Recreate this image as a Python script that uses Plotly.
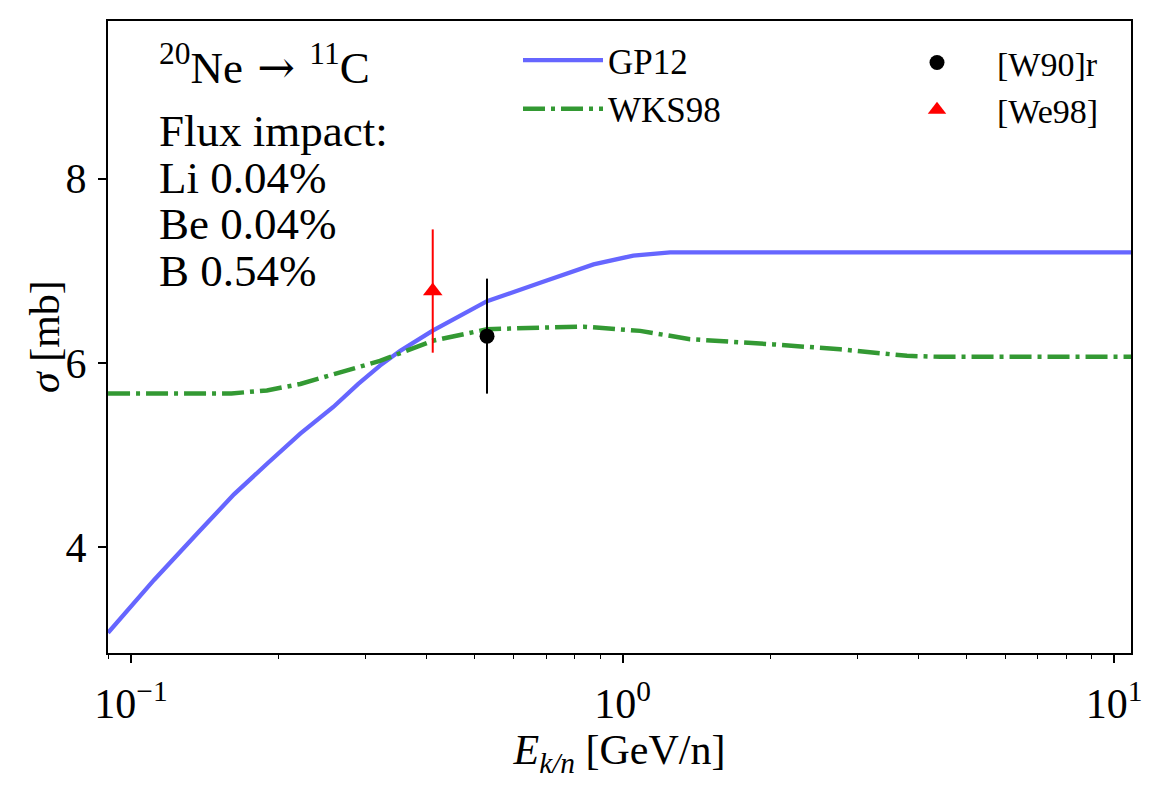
import plotly.graph_objects as go

# ---- data ----
gp12_x = [0.0898, 0.1114, 0.1383, 0.162, 0.1889, 0.221, 0.258, 0.290, 0.321, 0.353, 0.411, 0.530, 0.680, 0.873, 1.052, 1.25, 11.0]
gp12_y = [3.065, 3.64, 4.18, 4.57, 4.90, 5.23, 5.52, 5.77, 5.97, 6.13, 6.35, 6.67, 6.87, 7.07, 7.166, 7.20, 7.20]

wks_x = [0.0898, 0.16, 0.189, 0.221, 0.260, 0.302, 0.321, 0.411, 0.530, 0.680, 0.833, 1.086, 1.372, 2.03, 2.77, 3.79, 4.43, 11.0]
wks_y = [5.667, 5.667, 5.70, 5.77, 5.88, 5.985, 6.02, 6.24, 6.365, 6.382, 6.393, 6.347, 6.257, 6.20, 6.147, 6.076, 6.065, 6.065]

w90_x = [0.530]
w90_y = [6.29]
w90_err = [0.625]

we98_x = [0.411]
we98_y = [6.78]
we98_err = [0.67]

info_lines = ["Flux impact:", "Li 0.04%", "Be 0.04%", "B 0.54%"]
reaction = ("<sup>20</sup>Ne<span style=\"font-family:'DejaVu Serif'\">&nbsp;→&nbsp;</span>"
            "<sup>11</sup>C")

x_tickvals = [0.1, 1, 10]
x_ticktext = ["10<sup>−1</sup>", "10<sup>0</sup>", "10<sup>1</sup>"]
y_tickvals = [4, 6, 8]

FONT = "Liberation Serif"

fig = go.Figure()
fig.add_trace(go.Scatter(x=gp12_x, y=gp12_y, mode="lines", name="GP12",
                         line=dict(color="rgb(102,102,255)", width=4.3), legend="legend"))
fig.add_trace(go.Scatter(x=wks_x, y=wks_y, mode="lines", name="WKS98",
                         line=dict(color="rgb(51,153,51)", width=4.5, dash="22px,6px,4px,6px"),
                         legend="legend"))
fig.add_trace(go.Scatter(x=w90_x, y=w90_y, mode="markers", name="[W90]r",
                         marker=dict(color="black", size=15, symbol="circle"),
                         error_y=dict(type="data", array=w90_err, color="black", thickness=2, width=0),
                         legend="legend2"))
fig.add_trace(go.Scatter(x=we98_x, y=we98_y, mode="markers", name="[We98]",
                         marker=dict(color="red", size=17, symbol="triangle-up"),
                         error_y=dict(type="data", array=we98_err, color="red", thickness=2, width=0),
                         legend="legend2"))

# page body has an 8px margin; work in page pixel coordinates
OFF = 8
W, H = 1156 - OFF, 787 - OFF
left_px, right_px, top_px, bottom_px = 108, 1131, 19, 653   # plot box on the page
L, T = left_px - OFF, top_px - OFF
R = W - (right_px - OFF)
B = H - (bottom_px - OFF)
pw = right_px - left_px
ph = bottom_px - top_px

def px2paper_x(px):
    return (px - left_px) / pw

def px2paper_y(py):
    return (bottom_px - py) / ph

annotations = [dict(text=reaction, x=px2paper_x(157), y=px2paper_y(63), xref="paper", yref="paper",
                    xanchor="left", yanchor="middle", showarrow=False,
                    font=dict(family=FONT, size=45, color="black"))]
centers = [129.5, 176, 223, 270]
for line, cy in zip(info_lines, centers):
    annotations.append(dict(text=line, x=px2paper_x(157), y=px2paper_y(cy), xref="paper", yref="paper",
                            xanchor="left", yanchor="middle", showarrow=False,
                            font=dict(family=FONT, size=45, color="black")))
# y-axis title
annotations.append(dict(text="<i>σ</i> [mb]", x=px2paper_x(45), y=0.5, xref="paper", yref="paper",
                        xanchor="center", yanchor="middle", textangle=-90, showarrow=False,
                        font=dict(family=FONT, size=42, color="black")))

fig.update_layout(
    width=W, height=H,
    margin=dict(l=L, r=R, t=T, b=B),
    paper_bgcolor="white", plot_bgcolor="white",
    font=dict(family=FONT, color="black"),
    annotations=annotations,
    legend=dict(x=px2paper_x(518), y=px2paper_y(29), xanchor="left", yanchor="top",
                font=dict(family=FONT, size=35, color="black"), bgcolor="rgba(0,0,0,0)",
                itemwidth=80, tracegroupgap=0),
    legend2=dict(x=px2paper_x(877), y=px2paper_y(32), xanchor="left", yanchor="top",
                 font=dict(family=FONT, size=34, color="black"), bgcolor="rgba(0,0,0,0)",
                 itemwidth=110),
    showlegend=True,
)

fig.update_xaxes(type="log", range=[-1.0468, 1.0344],
                 tickvals=x_tickvals, ticktext=x_ticktext,
                 tickfont=dict(family=FONT, size=42, color="black"),
                 ticks="outside", ticklen=8, tickwidth=2, tickcolor="black",
                 ticklabelstandoff=5,
                 showline=True, linecolor="black", linewidth=2, mirror=True,
                 showgrid=False, zeroline=False,
                 minor=dict(ticks="outside", ticklen=4, tickwidth=1.3, tickcolor="black",
                            dtick="D1", showgrid=False),
                 title=dict(text="<i>E</i><sub><i>k/n</i></sub> [GeV/n]",
                            font=dict(family=FONT, size=42, color="black"), standoff=1))
fig.update_yaxes(range=[2.846, 9.715], tickvals=y_tickvals,
                 tickfont=dict(family=FONT, size=42, color="black"),
                 ticks="outside", ticklen=8, tickwidth=2, tickcolor="black",
                 ticklabelstandoff=3,
                 showline=True, linecolor="black", linewidth=2, mirror=True,
                 showgrid=False, zeroline=False)

fig.write_html("out.html")
